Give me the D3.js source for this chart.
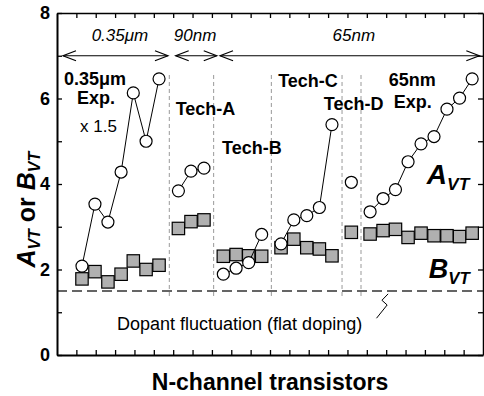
<!DOCTYPE html>
<html>
<head>
<meta charset="utf-8">
<script src="https://cdn.jsdelivr.net/npm/d3@7"></script>
<style>
  body { margin: 0; background: #fff; }
  svg { font-family: "Liberation Sans", Arial, sans-serif; }
</style>
</head>
<body>
<div id="chart"></div>
<script>
// values (x in transistor slots, y in A_VT / B_VT units)
var x035 = [1.29, 1.96, 2.63, 3.31, 3.94, 4.6, 5.27];
var a035 = [2.08, 3.53, 3.11, 4.28, 6.13, 5.0, 6.46];
var b035 = [1.78, 1.95, 1.71, 1.89, 2.2, 2.0, 2.1];

var xTechA = [6.27, 6.92, 7.59];
var aTechA = [3.84, 4.30, 4.37];
var bTechA = [2.96, 3.12, 3.16];

var xTechB = [8.59, 9.25, 9.9, 10.57];
var aTechB = [1.89, 2.03, 2.16, 2.82];
var bTechB = [2.31, 2.35, 2.32, 2.31];

var xTechC = [11.57, 12.23, 12.9, 13.55, 14.2];
var aTechC = [2.6, 3.16, 3.26, 3.45, 5.39];
var bTechC = [2.51, 2.71, 2.51, 2.48, 2.32];

var xTechD = [15.2];
var aTechD = [4.04];
var bTechD = [2.87];

var x65 = [16.17, 16.84, 17.48, 18.13, 18.8, 19.47, 20.14, 20.79, 21.44];
var a65 = [3.35, 3.66, 3.87, 4.52, 4.94, 5.11, 5.75, 6.01, 6.46];
var b65 = [2.83, 2.91, 2.94, 2.75, 2.85, 2.79, 2.79, 2.77, 2.85];

var dividers = [5.8, 8.09, 11.07, 14.72, 15.7];
var dopantLevel = 1.5;
var yTicks = [0, 1, 2, 3, 4, 5, 6, 7, 8];
var xTicks = d3.range(1, 22);

var nodes = [
  {label: "0.35μm", from: 0.31, to: 5.73, mid: 3.25},
  {label: "90nm", from: 6.13, to: 8.25, mid: 7.13},
  {label: "65nm", from: 8.42, to: 21.81, mid: 15.33}
];

var groups = [
  {x: x035, a: a035, b: b035},
  {x: xTechA, a: aTechA, b: bTechA},
  {x: xTechB, a: aTechB, b: bTechB},
  {x: xTechC, a: aTechC, b: bTechC},
  {x: xTechD, a: aTechD, b: bTechD},
  {x: x65, a: a65, b: b65}
];

var notes = [
  {t: "0.35μm", x: 0.36, y: 6.32},
  {t: "Exp.", x: 1.03, y: 5.86},
  {t: "Tech-A", x: 6.13, y: 5.61},
  {t: "Tech-B", x: 8.52, y: 4.7},
  {t: "Tech-C", x: 11.42, y: 6.27},
  {t: "Tech-D", x: 13.78, y: 5.73},
  {t: "65nm", x: 17.13, y: 6.29},
  {t: "Exp.", x: 17.39, y: 5.78}
];

var W = 484, H = 396;
var L = 57, R = 483, T = 13, B = 355;

var x = d3.scaleLinear().domain([0, 22]).range([L, R]);
var y = d3.scaleLinear().domain([0, 8]).range([B, T]);

var svg = d3.select("#chart").append("svg")
    .attr("width", W)
    .attr("height", H);

// dashed separators between technologies
svg.selectAll(".div")
    .data(dividers)
  .enter().append("line")
    .attr("x1", function(d) { return x(d); })
    .attr("x2", function(d) { return x(d); })
    .attr("y1", y(6.55))
    .attr("y2", y(1.31))
    .attr("stroke", "#999")
    .attr("stroke-dasharray", "4,3");

// dopant fluctuation level
svg.append("line")
    .attr("x1", L).attr("x2", R)
    .attr("y1", y(dopantLevel)).attr("y2", y(dopantLevel))
    .attr("stroke", "#333")
    .attr("stroke-width", 1.5)
    .attr("stroke-dasharray", "10,5");

// node arrows across the top
var ay = y(7);
nodes.forEach(function(n) {
  var x1 = x(n.from), x2 = x(n.to);
  svg.append("line").attr("x1", x1).attr("x2", x2).attr("y1", ay).attr("y2", ay)
      .attr("stroke", "#000").attr("stroke-width", 1.2);
  svg.append("path")
      .attr("d", "M" + (x1 + 13) + "," + (ay - 5) + "L" + x1 + "," + ay + "L" + (x1 + 13) + "," + (ay + 5) +
                 "M" + (x2 - 13) + "," + (ay - 5) + "L" + x2 + "," + ay + "L" + (x2 - 13) + "," + (ay + 5))
      .attr("fill", "none").attr("stroke", "#000").attr("stroke-width", 1.2);
  svg.append("text")
      .attr("x", x(n.mid)).attr("y", y(7.34))
      .attr("text-anchor", "middle")
      .attr("font-style", "italic")
      .attr("font-size", 17)
      .text(n.label);
});

// squares (B_VT) first, circles (A_VT) on top of the line
groups.forEach(function(g) {
  var pts = g.x.map(function(v, i) { return {x: v, a: g.a[i], b: g.b[i]}; });

  svg.append("g").selectAll("rect")
      .data(pts)
    .enter().append("rect")
      .attr("x", function(d) { return x(d.x) - 6.2; })
      .attr("y", function(d) { return y(d.b) - 6.2; })
      .attr("width", 12.4)
      .attr("height", 12.4)
      .attr("fill", "#b0b0b0")
      .attr("stroke", "#000")
      .attr("stroke-width", 1.2);

  svg.append("path")
      .datum(pts)
      .attr("fill", "none")
      .attr("stroke", "#000")
      .attr("stroke-width", 1)
      .attr("d", d3.line().x(function(d) { return x(d.x); }).y(function(d) { return y(d.a); }));

  svg.append("g").selectAll("circle")
      .data(pts)
    .enter().append("circle")
      .attr("cx", function(d) { return x(d.x); })
      .attr("cy", function(d) { return y(d.a); })
      .attr("r", 6)
      .attr("fill", "#fff")
      .attr("stroke", "#000")
      .attr("stroke-width", 1.2);
});

// axes, ticks pointing inwards
svg.append("g")
    .attr("transform", "translate(" + L + ",0)")
    .call(d3.axisLeft(y).tickValues(yTicks).tickSize(-5).tickSizeOuter(0)
      .tickFormat(function(d) { return d % 2 === 0 ? d : ""; }))
    .call(function(g) {
      g.select(".domain").attr("stroke-width", 2);
      g.selectAll("text").attr("font-size", 18).attr("font-weight", "bold")
        .attr("font-family", "Liberation Sans, Arial, sans-serif").attr("fill", "#000").attr("x", -7);
    });

svg.append("g")
    .attr("transform", "translate(" + R + ",0)")
    .call(d3.axisRight(y).tickValues(yTicks).tickSize(-5).tickSizeOuter(0).tickFormat(""))
    .call(function(g) { g.select(".domain").attr("stroke-width", 1.5); });

svg.append("g")
    .attr("transform", "translate(0," + B + ")")
    .call(d3.axisBottom(x).tickValues(xTicks).tickSize(-5).tickSizeOuter(0).tickFormat(""))
    .call(function(g) { g.select(".domain").attr("stroke-width", 2); });

svg.append("g")
    .attr("transform", "translate(0," + T + ")")
    .call(d3.axisTop(x).tickValues(xTicks).tickSize(-5).tickSizeOuter(0).tickFormat(""))
    .call(function(g) { g.select(".domain").attr("stroke-width", 1.5); });

svg.selectAll(".tick line").attr("stroke-width", 1.3);

// group labels
svg.selectAll(".note")
    .data(notes)
  .enter().append("text")
    .attr("x", function(d) { return x(d.x); })
    .attr("y", function(d) { return y(d.y); })
    .attr("font-size", 18)
    .attr("font-weight", "bold")
    .text(function(d) { return d.t; });

svg.append("text")
    .attr("x", x(1.19)).attr("y", y(5.22))
    .attr("font-size", 17)
    .text("x 1.5");

svg.append("text")
    .attr("x", x(3.1)).attr("y", y(0.58))
    .attr("font-size", 18)
    .text("Dopant fluctuation (flat doping)");

// little lightning mark under the dashed line
svg.append("path")
    .attr("d", d3.line()([[x(16.5), y(0.86)], [x(17.05), y(1.17)], [x(16.78), y(1.28)], [x(17.1), y(1.43)]]))
    .attr("fill", "none")
    .attr("stroke", "#000")
    .attr("stroke-width", 1);

// A_VT and B_VT labels
function sublabel(px, py, main, size) {
  var t = svg.append("text")
      .attr("x", px).attr("y", py)
      .attr("font-weight", "bold")
      .attr("font-style", "italic")
      .attr("font-size", size);
  t.append("tspan").text(main);
  t.append("tspan").attr("font-size", size * 0.62).attr("dy", size * 0.22).text("VT");
}
sublabel(x(19.1), y(4.0), "A", 28);
sublabel(x(19.2), y(1.8), "B", 27);

// axis titles
svg.append("text")
    .attr("x", (L + R) / 2).attr("y", 390)
    .attr("text-anchor", "middle")
    .attr("font-size", 23)
    .attr("font-weight", "bold")
    .text("N-channel transistors");

var yt = svg.append("text")
    .attr("transform", "translate(35," + y(3.4) + ") rotate(-90)")
    .attr("text-anchor", "middle")
    .attr("font-size", 25)
    .attr("font-weight", "bold");
yt.append("tspan").attr("font-style", "italic").text("A");
yt.append("tspan").attr("font-style", "italic").attr("font-size", 16).attr("dy", 5).text("VT");
yt.append("tspan").attr("dy", -5).text(" or ");
yt.append("tspan").attr("font-style", "italic").text("B");
yt.append("tspan").attr("font-style", "italic").attr("font-size", 16).attr("dy", 5).text("VT");
</script>
</body>
</html>
